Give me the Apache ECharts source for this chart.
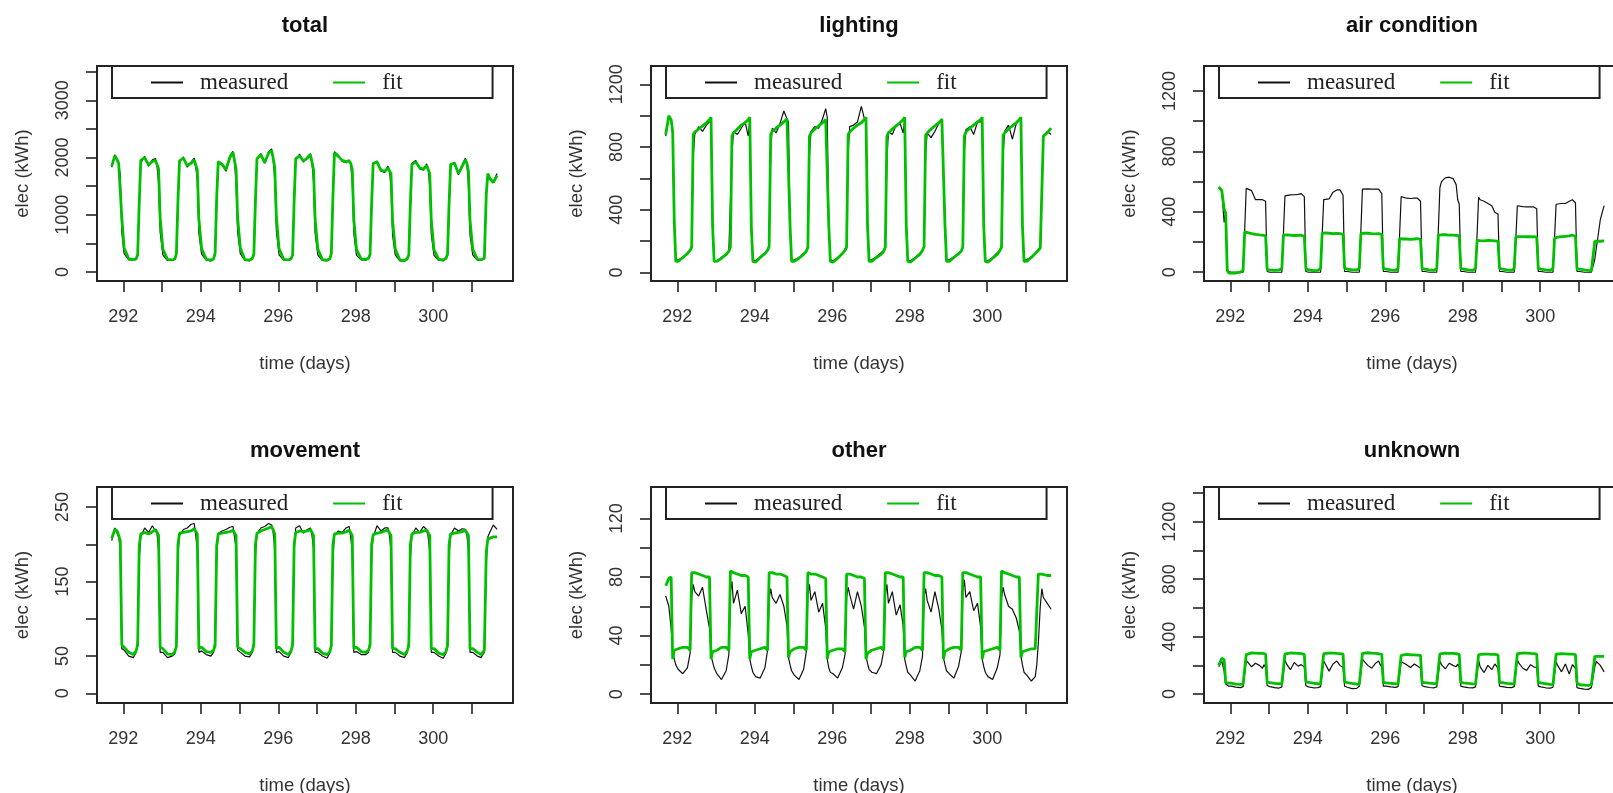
<!DOCTYPE html>
<html>
<head>
<meta charset="utf-8">
<title>elec measured vs fit</title>
<script src="https://cdn.jsdelivr.net/npm/echarts@6/dist/echarts.min.js"></script>
<style>
  html, body { margin: 0; padding: 0; background: #fff; }
  #main { width: 1613px; height: 793px; }
</style>
</head>
<body>
<div id="main"></div>
<script>
// time grid (days), shared by every panel
const timeDays = [
  [291.70, 291.78, 291.84, 291.88, 291.92, 291.96],
  [292.02, 292.14, 292.26, 292.33, 292.37, 292.41, 292.45, 292.55, 292.65, 292.75, 292.83, 292.87, 292.91, 292.95],
  [293.02, 293.14, 293.26, 293.33, 293.37, 293.41, 293.45, 293.55, 293.65, 293.75, 293.83, 293.87, 293.91, 293.95],
  [294.02, 294.14, 294.26, 294.33, 294.37, 294.41, 294.45, 294.55, 294.65, 294.75, 294.83, 294.87, 294.91, 294.95],
  [295.02, 295.14, 295.26, 295.33, 295.37, 295.41, 295.45, 295.55, 295.65, 295.75, 295.83, 295.87, 295.91, 295.95],
  [296.02, 296.14, 296.26, 296.33, 296.37, 296.41, 296.45, 296.55, 296.65, 296.75, 296.83, 296.87, 296.91, 296.95],
  [297.02, 297.14, 297.26, 297.33, 297.37, 297.41, 297.45, 297.55, 297.65, 297.75, 297.83, 297.87, 297.91, 297.95],
  [298.02, 298.14, 298.26, 298.33, 298.37, 298.41, 298.45, 298.55, 298.65, 298.75, 298.83, 298.87, 298.91, 298.95],
  [299.02, 299.14, 299.26, 299.33, 299.37, 299.41, 299.45, 299.55, 299.65, 299.75, 299.83, 299.87, 299.91, 299.95],
  [300.02, 300.14, 300.26, 300.33, 300.37, 300.41, 300.45, 300.55, 300.65, 300.75, 300.83, 300.87, 300.91, 300.95],
  [301.02, 301.14, 301.24, 301.28, 301.32, 301.37, 301.41, 301.45, 301.55, 301.65]
].flat();

// total
const totalMeasured = [
  [1830, 2050, 1950, 1880, 1700, 700],
  [320, 210, 210, 220, 280, 1100, 1900, 2020, 1850, 1960, 1980, 1850, 1550, 700],
  [300, 200, 200, 220, 300, 1150, 1920, 2010, 1830, 1920, 1990, 1830, 1600, 680],
  [310, 210, 190, 220, 310, 1200, 1900, 1870, 1760, 2030, 2110, 1930, 1550, 700],
  [320, 200, 195, 225, 290, 1150, 1960, 2070, 1900, 2100, 2150, 1960, 1600, 720],
  [300, 205, 200, 220, 280, 1150, 1950, 2060, 1920, 2010, 2070, 1900, 1580, 690],
  [300, 200, 195, 220, 300, 1200, 2100, 2040, 1930, 1910, 1960, 1880, 1560, 680],
  [290, 210, 205, 230, 290, 1100, 1880, 1940, 1760, 1740, 1850, 1780, 1500, 650],
  [300, 195, 190, 220, 280, 1100, 1900, 1950, 1800, 1780, 1890, 1810, 1500, 660],
  [290, 205, 195, 225, 290, 1100, 1860, 1920, 1700, 1870, 1990, 1880, 1520, 650],
  [300, 205, 200, 215, 230, 1390, 1700, 1620, 1580, 1720]
].flat();
const totalFit = [
  [1850, 2030, 1960, 1900, 1880, 950],
  [420, 230, 215, 230, 300, 1200, 1950, 2000, 1870, 1930, 1950, 1880, 1800, 950],
  [400, 220, 210, 230, 320, 1250, 1940, 1990, 1860, 1900, 1960, 1870, 1780, 930],
  [410, 220, 210, 230, 330, 1300, 1930, 1880, 1790, 2000, 2090, 1950, 1800, 950],
  [420, 215, 210, 235, 310, 1250, 1980, 2050, 1910, 2080, 2120, 1980, 1820, 970],
  [410, 220, 210, 230, 300, 1250, 1980, 2030, 1940, 1990, 2050, 1920, 1790, 940],
  [400, 215, 205, 230, 320, 1300, 2080, 2020, 1950, 1930, 1940, 1900, 1790, 920],
  [390, 230, 220, 240, 310, 1200, 1900, 1920, 1780, 1760, 1820, 1800, 1720, 900],
  [400, 210, 200, 230, 300, 1200, 1880, 1920, 1820, 1800, 1860, 1830, 1720, 900],
  [390, 220, 210, 240, 310, 1200, 1880, 1900, 1720, 1850, 1960, 1900, 1760, 900],
  [400, 220, 215, 225, 240, 1350, 1720, 1650, 1560, 1690]
].flat();

// lighting
const lightingMeasured = [
  [870, 990, 960, 880, 300, 80],
  [80, 90, 125, 145, 170, 740, 880, 930, 900, 940, 960, 980, 280, 75],
  [75, 95, 110, 140, 150, 760, 900, 880, 920, 960, 870, 970, 270, 80],
  [75, 100, 125, 145, 170, 780, 920, 890, 950, 1030, 980, 960, 280, 75],
  [80, 95, 120, 140, 165, 750, 900, 930, 920, 980, 1045, 990, 290, 80],
  [75, 95, 115, 150, 170, 770, 930, 940, 960, 1060, 980, 960, 270, 80],
  [80, 100, 125, 140, 165, 720, 900, 880, 940, 950, 890, 980, 280, 75],
  [75, 95, 120, 145, 170, 760, 890, 860, 900, 950, 980, 970, 270, 80],
  [80, 100, 115, 140, 165, 780, 910, 930, 880, 960, 960, 980, 280, 75],
  [75, 95, 125, 145, 170, 750, 900, 940, 850, 950, 970, 985, 290, 80],
  [80, 100, 115, 135, 145, 160, 170, 860, 900, 880]
].flat();
const lightingFit = [
  [880, 1000, 975, 900, 330, 70],
  [70, 95, 120, 140, 160, 880, 895, 915, 935, 955, 975, 990, 300, 70],
  [70, 90, 115, 135, 160, 870, 890, 915, 940, 955, 975, 990, 300, 70],
  [65, 95, 120, 140, 165, 880, 900, 920, 940, 960, 980, 990, 300, 70],
  [70, 90, 115, 135, 160, 870, 890, 915, 935, 955, 975, 985, 300, 70],
  [65, 90, 120, 140, 160, 880, 895, 920, 940, 955, 975, 990, 300, 70],
  [70, 95, 115, 135, 160, 870, 890, 915, 935, 955, 975, 990, 300, 70],
  [65, 90, 115, 140, 165, 875, 890, 915, 935, 955, 975, 985, 300, 70],
  [70, 95, 120, 135, 160, 870, 895, 920, 940, 960, 975, 990, 300, 70],
  [65, 90, 115, 140, 160, 875, 890, 915, 935, 955, 975, 990, 300, 70],
  [70, 95, 120, 130, 140, 155, 165, 870, 890, 920]
].flat();

// air condition
const airMeasured = [
  [560, 535, 330, 400, 20, 5],
  [0, 0, 0, 0, 5, 555, 555, 540, 480, 480, 480, 478, 470, 5],
  [0, 0, 0, 0, 5, 505, 512, 512, 513, 515, 520, 527, 500, 5],
  [0, 0, 0, 0, 5, 480, 480, 485, 530, 545, 545, 545, 510, 5],
  [5, 0, 0, 0, 5, 550, 552, 552, 550, 550, 550, 548, 520, 5],
  [5, 0, 0, 0, 5, 500, 490, 490, 488, 490, 490, 490, 470, 5],
  [5, 0, 0, 0, 5, 560, 600, 625, 629, 620, 580, 480, 450, 5],
  [5, 0, 0, 0, 5, 497, 480, 470, 455, 440, 395, 390, 385, 5],
  [5, 0, 0, 0, 5, 440, 434, 434, 432, 432, 432, 430, 420, 5],
  [5, 0, 0, 0, 5, 450, 452, 455, 455, 470, 480, 482, 460, 5],
  [5, 0, 0, 0, 0, 0, 86, 86, 346, 441]
].flat();
const airFit = [
  [565, 540, 420, 390, 10, -5],
  [-5, -5, 0, 15, 268, 266, 262, 255, 250, 247, 245, 243, 240, 20],
  [15, 12, 15, 25, 245, 247, 247, 245, 243, 244, 245, 240, 238, 25],
  [15, 10, 12, 25, 255, 258, 260, 258, 255, 257, 255, 252, 250, 25],
  [20, 15, 15, 25, 255, 256, 258, 258, 255, 254, 256, 250, 248, 25],
  [20, 15, 12, 25, 222, 222, 220, 220, 218, 220, 222, 220, 218, 25],
  [20, 15, 12, 25, 245, 247, 248, 248, 246, 245, 244, 243, 240, 25],
  [20, 15, 12, 25, 210, 210, 209, 208, 210, 209, 208, 207, 205, 25],
  [20, 15, 12, 25, 235, 236, 236, 236, 235, 236, 235, 234, 232, 25],
  [20, 15, 12, 25, 225, 228, 232, 235, 238, 240, 245, 240, 238, 20],
  [20, 15, 12, 10, 10, 15, 205, 205, 205, 207]
].flat();

// movement
const movementMeasured = [
  [205, 222, 215, 210, 195, 60],
  [58, 50, 48, 55, 72, 180, 210, 222, 216, 225, 218, 214, 192, 55],
  [55, 48, 50, 53, 68, 185, 212, 220, 222, 227, 228, 212, 190, 55],
  [57, 52, 50, 55, 75, 183, 215, 218, 220, 223, 224, 210, 195, 58],
  [55, 50, 49, 55, 70, 185, 214, 222, 224, 228, 226, 215, 193, 55],
  [56, 50, 48, 55, 70, 190, 222, 225, 215, 220, 222, 212, 195, 55],
  [55, 50, 47, 54, 68, 180, 212, 218, 216, 222, 224, 210, 190, 55],
  [56, 52, 52, 55, 72, 185, 210, 225, 218, 222, 222, 212, 192, 55],
  [55, 50, 48, 55, 70, 183, 212, 222, 216, 224, 220, 210, 190, 55],
  [55, 50, 47, 54, 70, 185, 213, 222, 218, 221, 220, 212, 192, 55],
  [55, 50, 48, 52, 55, 175, 210, 215, 226, 220]
].flat();
const movementFit = [
  [208, 220, 218, 212, 205, 65],
  [62, 55, 52, 57, 65, 198, 214, 216, 214, 217, 220, 218, 212, 62],
  [60, 53, 52, 56, 63, 200, 215, 216, 217, 218, 221, 219, 214, 60],
  [62, 56, 55, 58, 64, 198, 214, 215, 216, 217, 219, 218, 212, 62],
  [60, 55, 53, 57, 65, 200, 215, 218, 220, 222, 224, 222, 214, 60],
  [62, 55, 52, 57, 65, 200, 216, 218, 217, 218, 220, 218, 212, 60],
  [60, 54, 52, 56, 64, 199, 214, 215, 215, 217, 219, 218, 212, 60],
  [62, 56, 55, 58, 65, 200, 213, 215, 216, 218, 219, 217, 212, 60],
  [60, 55, 52, 57, 64, 199, 214, 216, 216, 218, 219, 218, 212, 60],
  [60, 54, 52, 56, 64, 200, 214, 215, 216, 217, 219, 218, 212, 60],
  [60, 55, 52, 55, 58, 190, 207, 208, 210, 210]
].flat();

// other
const otherMeasured = [
  [67, 60, 45, 30, 24, 20],
  [17, 14, 18, 28, 66, 75, 70, 67, 73, 57, 45, 26, 22, 18],
  [14, 10, 16, 27, 70, 77, 62, 71, 55, 60, 41, 24, 19, 15],
  [12, 11, 18, 30, 65, 72, 66, 62, 68, 60, 47, 25, 20, 16],
  [13, 10, 17, 29, 68, 75, 64, 70, 56, 62, 45, 24, 18, 15],
  [14, 11, 18, 27, 66, 73, 68, 58, 70, 60, 46, 26, 21, 17],
  [15, 14, 20, 30, 68, 75, 62, 70, 54, 61, 47, 24, 19, 15],
  [13, 9, 16, 26, 67, 72, 64, 56, 70, 58, 44, 25, 20, 16],
  [14, 11, 19, 29, 70, 78, 66, 70, 57, 62, 46, 24, 19, 15],
  [12, 10, 18, 27, 66, 73, 68, 60, 58, 52, 43, 26, 20, 15],
  [13, 9, 12, 20, 35, 60, 72, 66, 62, 58]
].flat();
const otherFit = [
  [74, 79, 80, 24, 30, 31],
  [31, 32, 32, 30, 83, 84, 83, 82, 81, 80, 80, 24, 29, 30],
  [30, 32, 32, 30, 84, 84, 83, 82, 81, 81, 80, 24, 29, 30],
  [30, 31, 32, 30, 83, 84, 83, 82, 82, 81, 80, 25, 29, 30],
  [31, 32, 32, 30, 83, 83, 82, 82, 81, 80, 79, 24, 29, 30],
  [30, 31, 31, 29, 82, 83, 82, 81, 80, 80, 79, 24, 28, 29],
  [30, 31, 32, 30, 83, 84, 83, 82, 81, 80, 80, 25, 29, 30],
  [30, 32, 32, 30, 83, 84, 83, 82, 81, 81, 80, 24, 29, 30],
  [31, 32, 32, 30, 83, 84, 83, 82, 81, 80, 80, 24, 29, 30],
  [30, 31, 32, 30, 84, 84, 83, 82, 81, 80, 80, 25, 29, 30],
  [30, 31, 31, 30, 82, 83, 82, 82, 81, 81]
].flat();

// unknown
const unknownMeasured = [
  [190, 230, 160, 70, 60, 55],
  [55, 48, 45, 52, 60, 235, 225, 190, 215, 200, 180, 205, 185, 60],
  [52, 45, 42, 50, 58, 240, 210, 170, 220, 195, 205, 215, 190, 58],
  [50, 44, 45, 52, 60, 230, 220, 160, 210, 230, 200, 210, 185, 55],
  [48, 38, 40, 55, 62, 245, 230, 200, 180, 215, 230, 205, 190, 55],
  [55, 50, 47, 52, 60, 225, 215, 205, 185, 210, 195, 200, 180, 58],
  [52, 46, 44, 50, 58, 230, 205, 175, 215, 200, 190, 210, 185, 56],
  [50, 45, 43, 50, 60, 235, 190, 150, 200, 170, 210, 195, 180, 55],
  [52, 47, 45, 52, 60, 240, 215, 180, 165, 205, 190, 200, 185, 56],
  [50, 44, 42, 48, 55, 225, 200, 155, 210, 140, 205, 195, 180, 45],
  [40, 35, 33, 38, 45, 50, 192, 227, 200, 155]
].flat();
const unknownFit = [
  [200, 250, 240, 80, 78, 77],
  [77, 70, 68, 70, 75, 275, 286, 287, 285, 284, 283, 281, 278, 85],
  [80, 75, 72, 72, 75, 280, 285, 286, 285, 284, 282, 280, 277, 85],
  [82, 76, 72, 70, 74, 282, 287, 286, 285, 283, 282, 280, 278, 85],
  [80, 74, 70, 68, 73, 284, 290, 288, 285, 283, 281, 279, 276, 82],
  [78, 75, 72, 71, 74, 270, 275, 276, 274, 273, 272, 271, 270, 80],
  [80, 76, 73, 72, 75, 280, 286, 285, 284, 283, 281, 279, 277, 82],
  [78, 74, 71, 70, 73, 275, 280, 279, 278, 277, 276, 275, 273, 80],
  [80, 75, 72, 70, 74, 282, 288, 286, 285, 283, 282, 280, 278, 82],
  [78, 72, 68, 66, 70, 278, 282, 281, 280, 279, 278, 277, 275, 78],
  [65, 62, 60, 62, 64, 66, 262, 262, 263, 262]
].flat();

const panelTitles = ['total', 'lighting', 'air condition', 'movement', 'other', 'unknown'];
const measuredSets = [totalMeasured, lightingMeasured, airMeasured, movementMeasured, otherMeasured, unknownMeasured];
const fitSets = [totalFit, lightingFit, airFit, movementFit, otherFit, unknownFit];

// axis ticks / labels
const xTicks = [292, 293, 294, 295, 296, 297, 298, 299, 300, 301];
const xLabels = [292, 294, 296, 298, 300];
const yTicks = [
  [0, 500, 1000, 1500, 2000, 2500, 3000, 3500],
  [0, 200, 400, 600, 800, 1000, 1200],
  [0, 200, 400, 600, 800, 1000, 1200],
  [0, 50, 100, 150, 200, 250],
  [0, 20, 40, 60, 80, 100, 120],
  [0, 200, 400, 600, 800, 1000, 1200, 1400]
];
const yLabels = [
  [0, 1000, 2000, 3000],
  [0, 400, 800, 1200],
  [0, 400, 800, 1200],
  [0, 50, 150, 250],
  [0, 40, 80, 120],
  [0, 400, 800, 1200]
];
const yMin = [-158, -55, -58, -13, -6, -62];
const yMax = [3600, 1317, 1365, 277, 141.4, 1442];

// layout of the 3 x 2 panels (right column runs past the page edge)
const boxLeft = [97, 651, 1204, 97, 651, 1204];
const boxTop = [66, 66, 66, 487, 487, 487];
const boxW = 416;
const boxH = [215, 215, 215, 216, 216, 216];
const titleTop = [15, 15, 15, 440, 440, 440];

const ink = '#222';
const fitGreen = '#00c000';
const sans = 'Liberation Sans, Arial, sans-serif';

const grids = [], xAxes = [], yAxes = [], titles = [], legends = [], series = [];

for (let i = 0; i < 6; i++) {
  grids.push({
    left: boxLeft[i], top: boxTop[i], width: boxW, height: boxH[i],
    outerBoundsMode: 'none', containLabel: false,
    show: true, borderColor: ink, borderWidth: 2, backgroundColor: 'transparent'
  });
  xAxes.push({
    gridIndex: i, type: 'value', min: 291.32, max: 302.06,
    axisLine: { show: false, onZero: false },
    splitLine: { show: false },
    axisTick: { show: true, inside: false, length: 11, customValues: xTicks, lineStyle: { color: ink, width: 1.6 } },
    axisLabel: { customValues: xLabels, margin: 27, fontSize: 18, color: '#333', fontFamily: sans, formatter: v => String(v) },
    name: 'time (days)', nameLocation: 'middle', nameGap: 73,
    nameTextStyle: { fontSize: 18.5, color: '#333', fontFamily: sans }
  });
  yAxes.push({
    gridIndex: i, type: 'value', min: yMin[i], max: yMax[i],
    axisLine: { show: false, onZero: false },
    splitLine: { show: false },
    axisTick: { show: true, inside: false, length: 11, customValues: yTicks[i], lineStyle: { color: ink, width: 1.6 } },
    axisLabel: { customValues: yLabels[i], rotate: 90, margin: 25, fontSize: 18, color: '#333', fontFamily: sans, formatter: v => String(v) },
    name: 'elec (kWh)', nameLocation: 'middle', nameGap: 65,
    nameTextStyle: { fontSize: 18.5, color: '#333', fontFamily: sans }
  });
  titles.push({
    text: panelTitles[i], left: boxLeft[i] + boxW / 2, top: titleTop[i], textAlign: 'center', padding: 0,
    textStyle: { fontSize: 22, fontWeight: 'bold', color: '#111', fontFamily: sans }
  });
  legends.push({
    data: ['measured', 'fit'],
    left: boxLeft[i] + 15, top: boxTop[i],
    orient: 'horizontal', selectedMode: false,
    itemWidth: 32, itemHeight: 14, itemGap: 44,
    padding: [5, 90, 4, 38],
    borderColor: ink, borderWidth: 2, borderRadius: 0,
    itemStyle: { opacity: 0 },
    textStyle: { fontFamily: 'Liberation Serif, Times New Roman, serif', fontSize: 23, color: '#222', padding: [0, 0, 0, 12] }
  });
  series.push({
    name: 'measured', type: 'line', xAxisIndex: i, yAxisIndex: i,
    data: timeDays.map((t, k) => [t, measuredSets[i][k]]),
    symbol: 'none', lineStyle: { color: '#111', width: 1.2 }, itemStyle: { color: '#111' }, z: 2
  });
  series.push({
    name: 'fit', type: 'line', xAxisIndex: i, yAxisIndex: i,
    data: timeDays.map((t, k) => [t, fitSets[i][k]]),
    symbol: 'none', lineStyle: { color: fitGreen, width: 2.8 }, itemStyle: { color: fitGreen }, z: 3
  });
}

const chart = echarts.init(document.getElementById('main'), null, { renderer: 'canvas' });
chart.setOption({
  animation: false,
  backgroundColor: '#fff',
  textStyle: { fontFamily: sans },
  title: titles,
  legend: legends,
  grid: grids,
  xAxis: xAxes,
  yAxis: yAxes,
  series: series
});
</script>
</body>
</html>
